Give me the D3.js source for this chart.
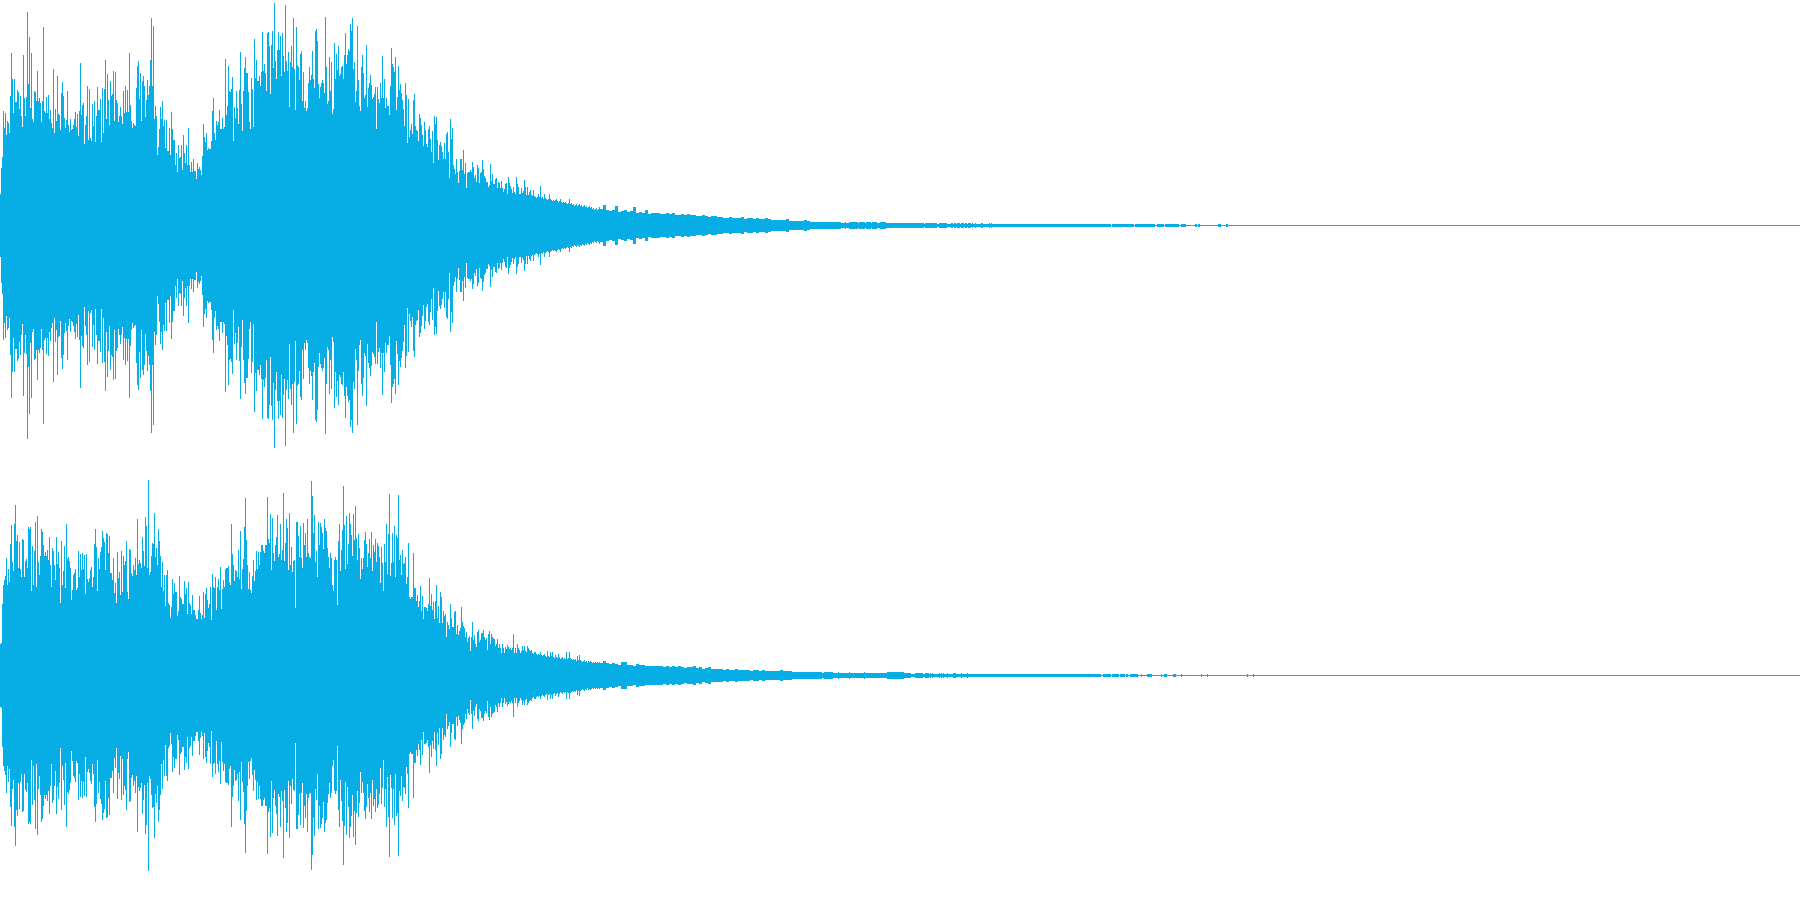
<!DOCTYPE html>
<html>
<head>
<meta charset="utf-8">
<script src="https://cdn.jsdelivr.net/npm/d3@7"></script>
<style>
html,body{margin:0;padding:0;background:#fff;overflow:hidden}
svg{display:block}
rect{shape-rendering:crispEdges}
</style>
</head>
<body>
<script>
// Peak amplitude per time column, channel 1 (columns 0-599)
const channel1Peaks = [
31,57,68,114,97,112,90,104,102,92,
129,172,146,112,146,123,123,135,133,116,
129,109,98,170,127,109,128,213,141,188,
117,172,106,103,134,133,124,154,124,127,
122,103,124,198,114,112,128,112,130,106,
115,102,97,156,92,116,104,149,111,110,
95,132,143,129,107,97,105,134,100,93,
106,95,96,100,106,113,98,111,89,114,
162,110,120,122,81,100,109,139,85,136,
87,84,121,99,124,83,109,138,115,115,
126,83,137,92,136,165,106,151,125,100,
144,129,131,154,104,153,125,122,103,109,
118,109,101,134,112,139,113,135,113,172,
120,104,97,102,100,99,137,159,164,126,
152,104,144,149,139,108,125,145,130,139,
165,207,139,199,106,119,109,70,78,96,
118,106,124,99,105,77,105,74,74,97,
70,113,96,85,85,60,72,53,80,67,
68,80,55,90,72,62,80,60,97,60,
53,63,53,66,54,54,46,62,56,58,
55,50,69,101,88,83,92,75,77,76,
76,84,114,127,92,85,104,100,103,115,
96,96,107,96,98,166,110,119,159,134,
133,136,148,84,118,107,134,117,101,135,
173,121,94,134,157,168,152,152,133,103,
96,147,136,98,186,147,165,144,144,149,
139,153,193,154,161,152,134,192,193,179,
131,180,194,157,222,164,146,175,193,175,
189,149,192,169,153,220,164,154,173,118,
163,179,158,207,156,115,198,160,158,145,
171,174,124,153,117,124,114,117,142,158,
145,150,174,146,137,194,196,184,141,127,
138,142,145,142,132,208,158,121,124,168,
134,163,111,116,182,146,171,155,179,149,
151,158,159,146,170,192,161,170,176,174,
201,194,207,156,163,123,134,199,145,119,
114,158,170,152,127,130,180,118,137,142,
150,140,126,128,131,138,96,138,126,122,
142,127,169,127,146,117,127,119,119,110,
139,177,161,158,153,168,115,128,159,135,
141,132,125,116,99,142,130,82,126,88,
95,101,91,125,131,99,95,94,84,111,
107,100,90,79,103,95,81,78,96,99,
86,73,94,62,109,101,108,85,65,80,
83,79,73,66,82,66,91,93,73,47,
106,86,97,60,56,51,66,53,42,54,
66,66,55,75,51,62,37,52,53,53,
55,53,63,58,47,50,43,60,57,42,
52,53,65,56,49,47,43,43,38,40,
61,44,51,41,41,46,47,37,43,42,
37,44,37,33,36,41,42,31,48,42,
39,36,32,38,33,31,48,41,38,31,
31,37,32,34,45,38,30,38,30,33,
35,30,29,35,29,28,27,28,31,28,
39,27,28,26,31,27,26,25,26,31,
26,25,24,25,24,25,26,24,23,24,
26,23,22,23,22,23,22,21,22,26,
21,22,20,21,19,20,21,19,20,21,
19,20,18,19,20,18,19,17,18,19,
17,18,16,17,15,16,17,15,16,18
];

// Peak amplitude per time column, channel 2 (columns 0-599)
const channel2Peaks = [
31,32,71,90,95,99,117,90,106,93,
131,150,113,104,151,170,134,140,107,133,
106,98,136,135,98,114,116,107,148,146,
148,84,129,90,124,153,88,159,113,100,
119,146,143,130,119,123,119,125,115,138,
110,88,127,124,110,95,138,111,123,107,
72,134,90,104,129,87,151,116,118,114,
107,75,85,100,102,106,85,87,124,98,
121,105,122,106,120,81,121,96,93,97,
105,108,88,98,131,146,128,84,117,106,
123,128,144,137,133,105,142,141,122,139,
102,102,95,117,82,92,72,123,97,103,
80,124,83,119,110,114,134,83,76,126,
125,102,99,110,105,117,100,156,111,115,
112,107,138,124,109,158,149,107,195,100,
103,119,132,131,162,118,127,110,146,134,
119,88,113,84,100,69,100,105,72,70,
57,68,96,81,92,83,83,59,64,99,
78,76,71,71,94,81,87,61,93,72,
70,61,80,65,65,60,56,56,65,79,
62,56,60,83,57,81,87,75,67,71,
88,55,101,88,87,98,65,88,96,85,
108,66,86,95,88,106,107,107,109,93,
90,151,121,110,94,105,104,98,125,96,
144,86,106,116,148,177,135,110,86,103,
85,82,99,115,94,104,124,106,123,110,
123,130,130,124,122,130,130,178,136,132,
161,105,157,122,114,130,138,160,118,121,
151,115,125,182,114,132,156,147,105,162,
110,128,103,114,115,67,153,153,139,118,
149,117,107,152,130,142,118,156,122,118,
117,194,179,142,160,113,124,98,153,130,
152,148,142,126,156,147,144,127,118,107,
122,117,90,84,115,118,115,70,134,151,
104,125,145,189,150,106,159,111,131,162,
151,140,119,161,135,169,137,115,141,127,
96,117,106,117,135,143,131,108,122,136,
117,143,104,130,123,136,113,132,129,118,
92,128,112,84,131,113,151,101,141,181,
99,112,142,113,149,98,140,137,180,115,
120,100,125,111,112,118,91,98,132,78,
76,78,78,122,87,87,74,80,68,74,
89,64,79,56,68,68,67,64,71,97,
69,81,65,73,56,74,90,57,69,52,
83,78,52,64,59,61,38,53,50,46,
71,57,48,48,63,64,41,50,40,44,
47,68,53,49,47,38,43,33,37,39,
24,38,53,35,40,31,28,43,45,33,
35,42,42,45,38,35,37,25,41,44,
31,41,38,37,36,29,31,36,27,31,
27,22,31,27,22,28,26,30,28,26,
27,25,27,41,22,27,22,31,27,25,
22,24,29,25,29,24,23,29,27,25,
24,25,22,21,23,23,21,20,21,20,
23,20,19,20,21,19,18,24,19,18,
23,19,23,18,17,20,18,17,21,18,
16,17,18,16,17,16,23,16,17,23,
17,16,15,16,15,16,14,19,15,20,
15,14,13,14,15,13,14,12,14,13,
14,13,12,13,12,13,12,13,12,13
];

// Decay, one reading every 3 columns from column 600
const channel1Decay = [
16,20,15,14,15,19,13,14,15,13,14,18,12,13,12,15,11,12,12,12,
11,11,12,11,12,10,10,11,10,11,10,10,9,9,10,9,8,9,9,8,
8,7,7,8,7,7,7,8,6,7,7,6,7,6,6,7,6,5,5,5,
5,5,6,4,4,4,4,4,5,4
];
const channel2Decay = [
12,14,12,11,12,11,10,13,13,10,10,9,11,10,10,9,9,9,9,9,
9,8,9,8,9,8,9,8,7,8,8,9,7,8,6,7,8,6,6,6,
6,5,6,5,5,6,5,5,5,5,4,5,5,4,5,4,4,4,4,4,
5,4,4,4,3,3,3,3,3,3
];

// Residual tail: [first column, last column, amplitude]
const channel1Tail = [
[810,835,3],[835,918,2],[918,1110,1],
[836,840,3],[845,845,3],[849,857,3],[859,864,3],[866,870,3],[872,876,3],[880,885,3],
[918,923,2],[925,933,2],[934,936,2],[939,946,2],[951,952,2],[954,955,2],[957,959,2],[961,963,2],[965,966,2],[968,970,2],[972,972,2],[975,975,2],[981,982,2],[989,989,2],[991,991,2],
[1112,1133,1],[1135,1140,1],[1141,1143,1],[1144,1149,1],[1150,1154,1],[1157,1163,1],[1165,1166,1],[1167,1172,1],[1173,1176,1],[1177,1178,1],[1181,1183,1],[1184,1185,1],[1195,1196,1],[1198,1199,1],[1218,1220,1],[1226,1227,1]
];
const channel2Tail = [
[810,814,3],[814,910,2],[910,1087,1],
[815,821,3],[824,832,3],[838,838,3],[849,849,3],[864,864,3],[887,903,3],
[915,918,2],[919,922,2],[925,927,2],[928,928,2],[930,930,2],[932,932,2],[939,939,2],[941,941,2],[943,943,2],[947,947,2],[953,955,2],[961,961,2],[967,967,2],
[1088,1091,1],[1092,1095,1],[1096,1100,1],[1103,1106,1],[1107,1110,1],[1112,1114,1],[1115,1118,1],[1120,1122,1],[1123,1124,1],[1126,1127,1],[1130,1133,1],[1134,1136,1],[1137,1137,1],[1141,1141,1],[1147,1151,1],[1161,1161,1],[1164,1166,1],[1173,1175,1],[1181,1181,1],[1201,1201,1],[1207,1207,1],[1247,1247,1],[1253,1253,1]
];

const decayStep = 3;
const decayStart = channel1Peaks.length;
const width = 1800, channelHeight = 450;
const peakColor = "#06aee5", baseColor = "#00b4ee";

const svg = d3.select("body").append("svg").attr("width", width).attr("height", channelHeight * 2);

const x = d3.scaleLinear().domain([0, width]).range([0, width]);
const y = d3.scaleLinear().domain([225, -225]).range([0, channelHeight]);

function drawChannel(offset, peaks, decay, tail) {
  const g = svg.append("g").attr("transform", `translate(0,${offset})`);

  g.append("rect").attr("x", x(0)).attr("width", x(width) - x(0))
    .attr("y", y(0)).attr("height", 1).attr("fill", baseColor);

  const columns = peaks.map((a, i) => ({ start: i, end: i + 1, amp: a }))
    .concat(decay.map((a, i) => ({ start: decayStart + i * decayStep, end: decayStart + (i + 1) * decayStep, amp: a })))
    .concat(tail.map(d => ({ start: d[0], end: d[1] + 1, amp: d[2] })));

  g.selectAll("rect.col").data(columns).join("rect")
    .attr("class", "col")
    .attr("x", d => x(d.start))
    .attr("width", d => x(d.end) - x(d.start))
    .attr("y", d => y(d.amp))
    .attr("height", d => y(-d.amp) - y(d.amp) + 1)
    .attr("fill", peakColor);
}

drawChannel(0, channel1Peaks, channel1Decay, channel1Tail);
drawChannel(channelHeight, channel2Peaks, channel2Decay, channel2Tail);
</script>
</body>
</html>
